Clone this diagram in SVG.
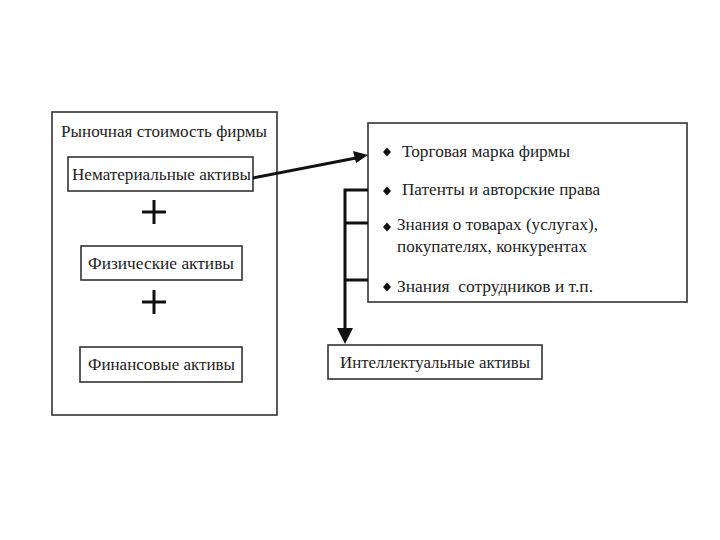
<svg xmlns="http://www.w3.org/2000/svg" width="720" height="540" viewBox="0 0 720 540">
<defs>
<style>
.box{fill:#fff;stroke:#333;stroke-width:1.6}
.t{font-family:"Liberation Serif","Times New Roman",serif;font-size:17.5px;fill:#222}
.s{font-family:"Liberation Serif","Times New Roman",serif;font-size:16.5px;fill:#222}
.c{fill:none;stroke:#111;stroke-width:3}
.plus{stroke:#111;stroke-width:3}
.dot{fill:#111}
</style>
</defs>
<rect width="720" height="540" fill="#fff"/>
<g id="market-value">
<rect class="box" x="52" y="112" width="225" height="303"/>
<text class="t" x="61" y="137" textLength="206" lengthAdjust="spacingAndGlyphs">Рыночная стоимость фирмы</text>
</g>
<g id="intangible">
<rect class="box" x="68" y="157" width="185" height="34"/>
<text class="t" x="72" y="180" textLength="179" lengthAdjust="spacingAndGlyphs">Нематериальные активы</text>
</g>
<g id="plus1">
<line class="plus" x1="142" y1="212" x2="166" y2="212"/>
<line class="plus" x1="154" y1="200" x2="154" y2="224"/>
</g>
<g id="physical">
<rect class="box" x="81" y="246" width="161" height="34"/>
<text class="t" x="88" y="269" textLength="146" lengthAdjust="spacingAndGlyphs">Физические активы</text>
</g>
<g id="plus2">
<line class="plus" x1="142" y1="302" x2="166" y2="302"/>
<line class="plus" x1="154" y1="290" x2="154" y2="314"/>
</g>
<g id="financial">
<rect class="box" x="80" y="347" width="162" height="35"/>
<text class="t" x="88" y="370" textLength="147" lengthAdjust="spacingAndGlyphs">Финансовые активы</text>
</g>
<g id="components">
<rect class="box" x="368" y="123" width="319" height="179"/>
<path class="dot" d="M387,147.5 l4,4.5 l-4,4.5 l-4,-4.5 Z"/>
<text class="s" x="402" y="157" textLength="168" lengthAdjust="spacingAndGlyphs">Торговая марка фирмы</text>
<path class="dot" d="M387,186.5 l4,4.5 l-4,4.5 l-4,-4.5 Z"/>
<text class="s" x="402" y="195" textLength="198" lengthAdjust="spacingAndGlyphs">Патенты и авторские права</text>
<path class="dot" d="M387,222.5 l4,4.5 l-4,4.5 l-4,-4.5 Z"/>
<text class="s" x="397" y="230" textLength="201" lengthAdjust="spacingAndGlyphs">Знания о товарах (услугах),</text>
<text class="s" x="397" y="252" textLength="190" lengthAdjust="spacingAndGlyphs">покупателях, конкурентах</text>
<path class="dot" d="M387,282.5 l4,4.5 l-4,4.5 l-4,-4.5 Z"/>
<text class="s" x="397" y="292" textLength="196" lengthAdjust="spacingAndGlyphs" xml:space="preserve">Знания  сотрудников и т.п.</text>
</g>
<g id="intellectual">
<rect class="box" x="328" y="345" width="214" height="34"/>
<text class="t" x="340" y="368" textLength="190" lengthAdjust="spacingAndGlyphs">Интеллектуальные активы</text>
</g>
<g id="connectors">
<line class="c" x1="253" y1="178" x2="356" y2="158"/>
<path d="M368,155 L353,151 L356,163 Z" fill="#111"/>
<path class="c" d="M368,190 H345 V330 M345,223 H368 M345,280 H368"/>
<path d="M337,328 L353,328 L345,344 Z" fill="#111"/>
</g>
</svg>
